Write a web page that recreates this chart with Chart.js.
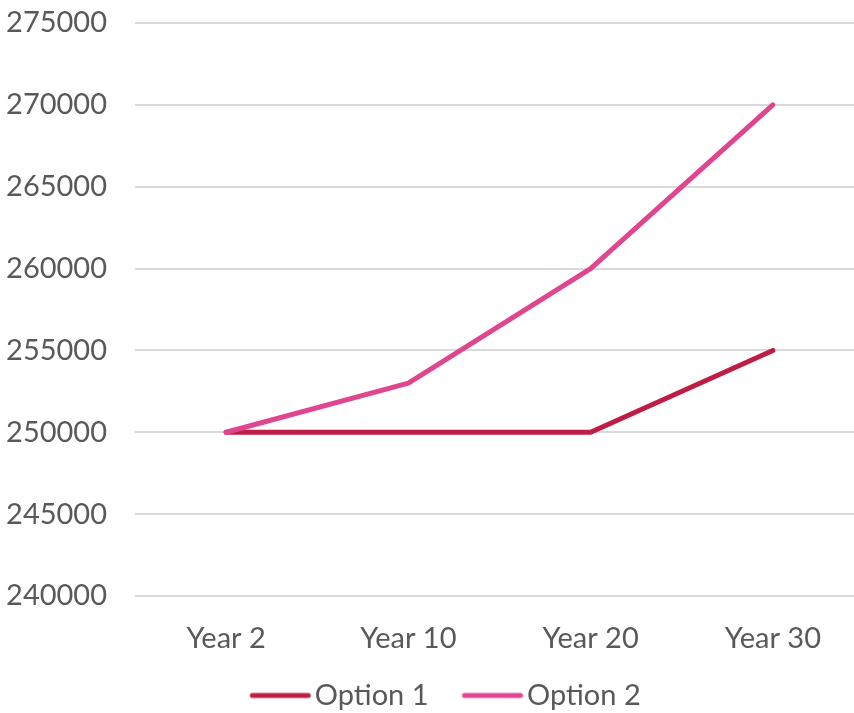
<!DOCTYPE html>
<html>
<head>
<meta charset="utf-8">
<script src="https://cdn.jsdelivr.net/npm/chart.js@4/dist/chart.umd.min.js"></script>
<style>
  html, body { margin: 0; padding: 0; background: #ffffff; overflow: hidden; }
  #wrap { width: 864px; height: 713px; }
</style>
</head>
<body>
<div id="wrap"><canvas id="chart" width="864" height="713"></canvas></div>
<script>
// Values per period
const categories = ['Year 2', 'Year 10', 'Year 20', 'Year 30'];
const option1 = [250000, 250000, 250000, 255000];
const option2 = [250000, 253000, 260000, 270000];
const seriesNames = ['Option 1', 'Option 2'];
const yMin = 240000;
const yMax = 275000;
const yStep = 5000;

const colors = ['#BE1E45', '#E0468F'];
const textColor = '#595959';
const fontFamily = 'Lato, "Open Sans", sans-serif';
const fontSize = 29;
const legendLine = 56;

// Legend swatch: a short rounded line that sits close to its label
function swatch(color) {
  const c = document.createElement('canvas');
  c.width = 80;
  c.height = 10;
  const g = c.getContext('2d');
  g.strokeStyle = color;
  g.lineWidth = 5;
  g.lineCap = 'round';
  g.beginPath();
  g.moveTo(20, 5);
  g.lineTo(20 + legendLine, 5);
  g.stroke();
  return c;
}

// Nudge the legend a little to the right of the canvas centre
const legendShift = {
  id: 'legendShift',
  afterLayout(chart) {
    if (chart.legend) chart.legend.left += 21;
  }
};

function series(i, data, order) {
  return {
    label: seriesNames[i],
    data: data,
    borderColor: colors[i],
    backgroundColor: colors[i],
    borderWidth: 5,
    borderCapStyle: 'round',
    borderJoinStyle: 'round',
    pointRadius: 0,
    pointStyle: swatch(colors[i]),
    tension: 0,
    order: order
  };
}

new Chart(document.getElementById('chart'), {
  type: 'line',
  data: {
    labels: categories,
    datasets: [series(0, option1, 1), series(1, option2, 0)]
  },
  plugins: [legendShift],
  options: {
    responsive: false,
    animation: false,
    layout: { padding: { top: 23, left: 0, right: 0, bottom: -7 } },
    plugins: {
      tooltip: { enabled: false },
      legend: {
        position: 'bottom',
        labels: {
          usePointStyle: true,
          pointStyleWidth: legendLine,
          boxHeight: 5,
          padding: 28,
          color: textColor,
          font: { family: fontFamily, size: fontSize },
          sort: (a, b) => a.datasetIndex - b.datasetIndex
        }
      }
    },
    scales: {
      x: {
        offset: true,
        afterFit: (scale) => { scale.height = 57; },
        grid: { display: false, drawTicks: false },
        border: { display: false },
        ticks: {
          color: textColor,
          padding: 25,
          maxRotation: 0,
          font: { family: fontFamily, size: fontSize }
        }
      },
      y: {
        min: yMin,
        max: yMax,
        afterFit: (scale) => {
          scale.width = 135;
          scale.paddingTop = 0;
          scale.paddingBottom = 0;
        },
        grid: { color: '#D9D9D9', lineWidth: 2, drawTicks: false },
        border: { display: false },
        ticks: {
          stepSize: yStep,
          padding: 28,
          color: textColor,
          font: { family: fontFamily, size: fontSize },
          callback: (v) => String(v)
        }
      }
    }
  }
});
</script>
</body>
</html>
